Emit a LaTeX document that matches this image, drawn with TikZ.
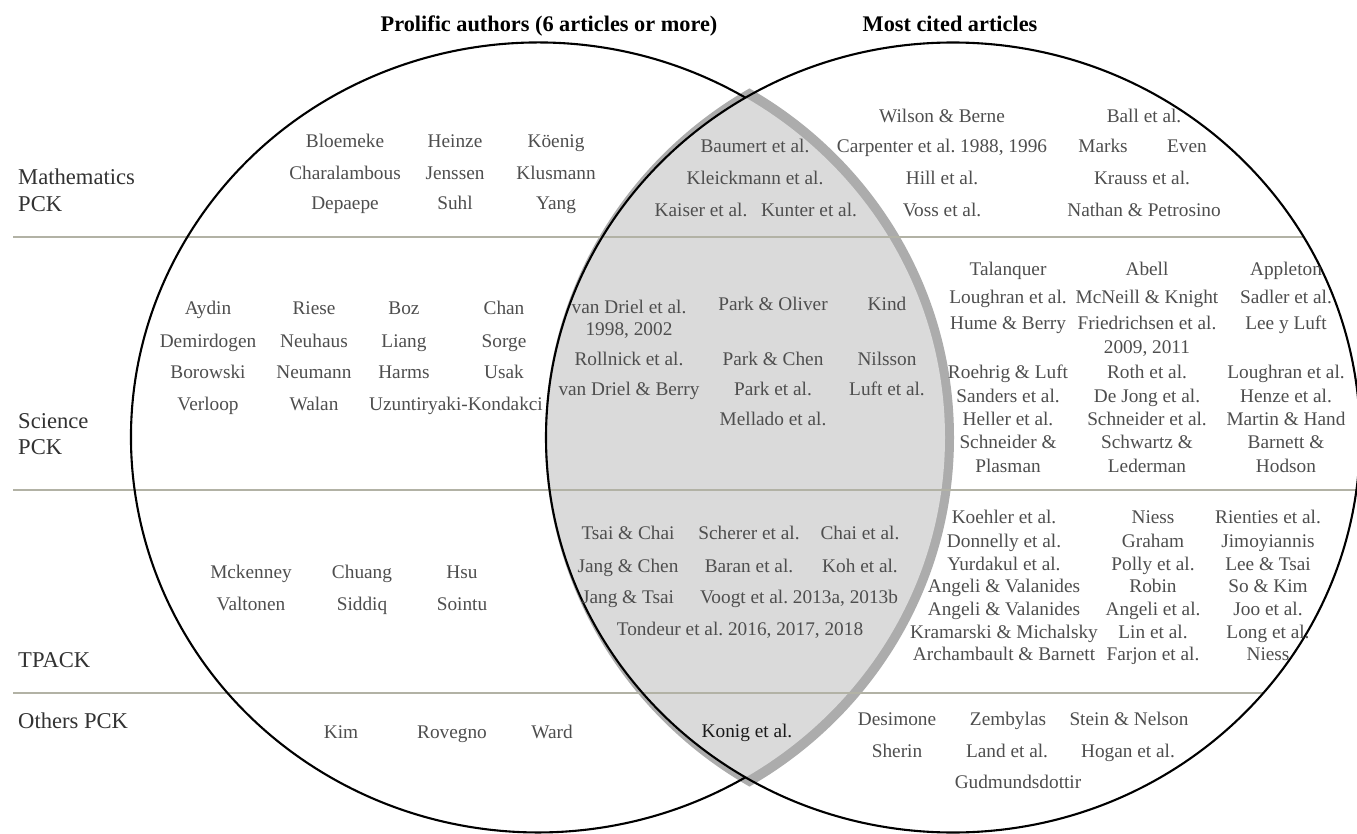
\documentclass[tikz,border=0pt]{standalone}
\usepackage{fontspec}
\setmainfont{Liberation Serif}
\frenchspacing
\definecolor{txt}{RGB}{78,78,78}
\definecolor{cattxt}{RGB}{50,50,50}
\definecolor{darktxt}{RGB}{25,25,25}
\definecolor{lensfill}{RGB}{218,218,218}
\definecolor{lensshadow}{RGB}{172,172,172}
\definecolor{gridcol}{RGB}{178,178,165}
\tikzset{
  au/.style={font=\fontsize{19.3}{22}\selectfont, text=txt, inner sep=0pt, text height=13pt, text depth=3pt},
  audark/.style={au, text=darktxt},
  cat/.style={font=\fontsize{22.6}{26}\selectfont, text=cattxt, inner sep=0pt, anchor=west, text height=15pt, text depth=3.5pt},
  ttl/.style={font=\bfseries\fontsize{22.3}{26}\selectfont, text=black, inner sep=0pt, text height=15pt, text depth=3.5pt},
  circ/.style={draw=black, line width=2.1pt},
  gridln/.style={draw=gridcol, line width=2pt}
}
\begin{document}
\begin{tikzpicture}[x=1pt,y=-1pt]
\useasboundingbox (0,0) rectangle (1357,834);
\fill[white] (0,0) rectangle (1357,834);

% lens shadow and lens fill
\begin{scope}
  \clip (545,437.5) ellipse [x radius=409pt, y radius=403pt];
  \fill[lensshadow] (954,437.5) ellipse [x radius=409pt, y radius=403pt];
\end{scope}
\begin{scope}
  \clip (538,437.5) ellipse [x radius=407pt, y radius=395pt];
  \fill[lensfill] (953,437.5) ellipse [x radius=407pt, y radius=395pt];
\end{scope}

% row separators
\coordinate (g1a) at (13,237);  \coordinate (g1b) at (1303.7,237);
\coordinate (g2a) at (13,490);  \coordinate (g2b) at (1357,490);
\coordinate (g3a) at (13,693);  \coordinate (g3b) at (1263.4,693);
\draw[gridln] (g1a) -- (g1b);
\draw[gridln] (g2a) -- (g2b);
\draw[gridln] (g3a) -- (g3b);

% circles
\draw[circ] (953,437.5) ellipse [x radius=407pt, y radius=395pt];
\coordinate (topx) at (745.5,97.7);
\draw[circ] (topx) arc[start angle=59.346, end angle=300.654, x radius=407pt, y radius=395pt];

% titles
\node[ttl] (t1) at (549,26) {Prolific authors (6 articles or more)};
\node[ttl] (t2) at (950,26) {Most cited articles};

% category labels
\node[cat] (c1a) at (18,179) {Mathematics};
\node[cat] (c1b) at (18,206) {PCK};
\node[cat] (c2a) at (18,423) {Science};
\node[cat] (c2b) at (18,449) {PCK};
\node[cat] (c3)  at (18,662) {TPACK};
\node[cat] (c4)  at (18,723) {Others PCK};

% Mathematics - prolific
\node[au] (m11) at (345,143) {Bloemeke};
\node[au] (m12) at (455,143) {Heinze};
\node[au] (m13) at (556,143) {Köenig};
\node[au] (m21) at (345,175) {Charalambous};
\node[au] (m22) at (455,175) {Jenssen};
\node[au] (m23) at (556,175) {Klusmann};
\node[au] (m31) at (345,205) {Depaepe};
\node[au] (m32) at (455,205) {Suhl};
\node[au] (m33) at (556,205) {Yang};
% Mathematics - both
\node[au] (ml1) at (755,148) {Baumert et al.};
\node[au] (ml2) at (755,180) {Kleickmann et al.};
\node[au] (ml3) at (701,212) {Kaiser et al.};
\node[au] (ml4) at (809,212) {Kunter et al.};
% Mathematics - cited
\node[au] (mr1) at (942,118) {Wilson \& Berne};
\node[au] (mr2) at (942,148) {Carpenter et al. 1988, 1996};
\node[au] (mr3) at (942,180) {Hill et al.};
\node[au] (mr4) at (942,212) {Voss et al.};
\node[au] (mr5) at (1144,118) {Ball et al.};
\node[au] (mr6) at (1103,148) {Marks};
\node[au] (mr7) at (1187,148) {Even};
\node[au] (mr8) at (1142,180) {Krauss et al.};
\node[au] (mr9) at (1144,212) {Nathan \& Petrosino};

% Science - prolific
\node[au] (s11) at (208,310) {Aydin};
\node[au] (s12) at (314,310) {Riese};
\node[au] (s13) at (404,310) {Boz};
\node[au] (s14) at (504,310) {Chan};
\node[au] (s21) at (208,342) {Demirdogen};
\node[au] (s22) at (314,342) {Neuhaus};
\node[au] (s23) at (404,342) {Liang};
\node[au] (s24) at (504,342) {Sorge};
\node[au] (s31) at (208,373) {Borowski};
\node[au] (s32) at (314,373) {Neumann};
\node[au] (s33) at (404,373) {Harms};
\node[au] (s34) at (504,373) {Usak};
\node[au] (s41) at (208,405) {Verloop};
\node[au] (s42) at (314,405) {Walan};
\node[au] (s43) at (456,405) {Uzuntiryaki-Kondakci};
% Science - both
\node[au] (sl1a) at (629,308) {van Driel et al.};
\node[au] (sl1b) at (629,330) {1998, 2002};
\node[au] (sl2) at (629,360) {Rollnick et al.};
\node[au] (sl3) at (629,390) {van Driel \& Berry};
\node[au] (sl4) at (773,305) {Park \& Oliver};
\node[au] (sl5) at (773,360) {Park \& Chen};
\node[au] (sl6) at (773,390) {Park et al.};
\node[au] (sl7) at (773,420) {Mellado et al.};
\node[au] (sl8) at (887,305) {Kind};
\node[au] (sl9) at (887,360) {Nilsson};
\node[au] (sl10) at (887,390) {Luft et al.};
% Science - cited
\node[au] (sa1) at (1008,271) {Talanquer};
\node[au] (sa2) at (1008,298) {Loughran et al.};
\node[au] (sa3) at (1008,325) {Hume \& Berry};
\node[au] (sa4) at (1008,373) {Roehrig \& Luft};
\node[au] (sa5) at (1008,397) {Sanders et al.};
\node[au] (sa6) at (1008,420) {Heller et al.};
\node[au] (sa7a) at (1008,443) {Schneider \&};
\node[au] (sa7b) at (1008,467) {Plasman};
\node[au] (sb1) at (1147,271) {Abell};
\node[au] (sb2) at (1147,298) {McNeill \& Knight};
\node[au] (sb3a) at (1147,325) {Friedrichsen et al.};
\node[au] (sb3b) at (1147,348) {2009, 2011};
\node[au] (sb4) at (1147,373) {Roth et al.};
\node[au] (sb5) at (1147,397) {De Jong et al.};
\node[au] (sb6) at (1147,420) {Schneider et al.};
\node[au] (sb7a) at (1147,443) {Schwartz \&};
\node[au] (sb7b) at (1147,467) {Lederman};
\node[au] (sc1) at (1286,271) {Appleton};
\node[au] (sc2) at (1286,298) {Sadler et al.};
\node[au] (sc3) at (1286,325) {Lee y Luft};
\node[au] (sc4) at (1286,373) {Loughran et al.};
\node[au] (sc5) at (1286,397) {Henze et al.};
\node[au] (sc6) at (1286,420) {Martin \& Hand};
\node[au] (sc7a) at (1286,443) {Barnett \&};
\node[au] (sc7b) at (1286,467) {Hodson};

% TPACK - prolific
\node[au] (p11) at (251,573) {Mckenney};
\node[au] (p12) at (362,573) {Chuang};
\node[au] (p13) at (462,573) {Hsu};
\node[au] (p21) at (251,605) {Valtonen};
\node[au] (p22) at (362,605) {Siddiq};
\node[au] (p23) at (462,605) {Sointu};
% TPACK - both
\node[au] (pl1) at (628,534) {Tsai \& Chai};
\node[au] (pl2) at (749,534) {Scherer et al.};
\node[au] (pl3) at (860,534) {Chai et al.};
\node[au] (pl4) at (628,567) {Jang \& Chen};
\node[au] (pl5) at (749,567) {Baran et al.};
\node[au] (pl6) at (860,567) {Koh et al.};
\node[au] (pl7) at (628,598) {Jang \& Tsai};
\node[au] (pl8) at (799,598) {Voogt et al. 2013a, 2013b};
\node[au] (pl9) at (740,630) {Tondeur et al. 2016, 2017, 2018};
% TPACK - cited
\node[au] (pa1) at (1004,518) {Koehler et al.};
\node[au] (pa2) at (1004,542) {Donnelly et al.};
\node[au] (pa3) at (1004,565) {Yurdakul et al.};
\node[au] (pa4) at (1004,587) {Angeli \& Valanides};
\node[au] (pa5) at (1004,610) {Angeli \& Valanides};
\node[au] (pa6) at (1004,633) {Kramarski \& Michalsky};
\node[au] (pa7) at (1004,655) {Archambault \& Barnett};
\node[au] (pb1) at (1153,518) {Niess};
\node[au] (pb2) at (1153,542) {Graham};
\node[au] (pb3) at (1153,565) {Polly et al.};
\node[au] (pb4) at (1153,587) {Robin};
\node[au] (pb5) at (1153,610) {Angeli et al.};
\node[au] (pb6) at (1153,633) {Lin et al.};
\node[au] (pb7) at (1153,655) {Farjon et al.};
\node[au] (pc1) at (1268,518) {Rienties et al.};
\node[au] (pc2) at (1268,542) {Jimoyiannis};
\node[au] (pc3) at (1268,565) {Lee \& Tsai};
\node[au] (pc4) at (1268,587) {So \& Kim};
\node[au] (pc5) at (1268,610) {Joo et al.};
\node[au] (pc6) at (1268,633) {Long et al.};
\node[au] (pc7) at (1268,655) {Niess};

% Others PCK
\node[au] (o1) at (341,733) {Kim};
\node[au] (o2) at (452,733) {Rovegno};
\node[au] (o3) at (552,733) {Ward};
\node[audark] (ol1) at (747,732) {Konig et al.};
\node[au] (or1) at (897,720) {Desimone};
\node[au] (or2) at (1008,720) {Zembylas};
\node[au] (or3) at (1129,720) {Stein \& Nelson};
\node[au] (or4) at (897,752) {Sherin};
\node[au] (or5) at (1007,752) {Land et al.};
\node[au] (or6) at (1128,752) {Hogan et al.};
\node[au] (or7) at (1018,783) {Gudmundsdottir};
\end{tikzpicture}
\end{document}
